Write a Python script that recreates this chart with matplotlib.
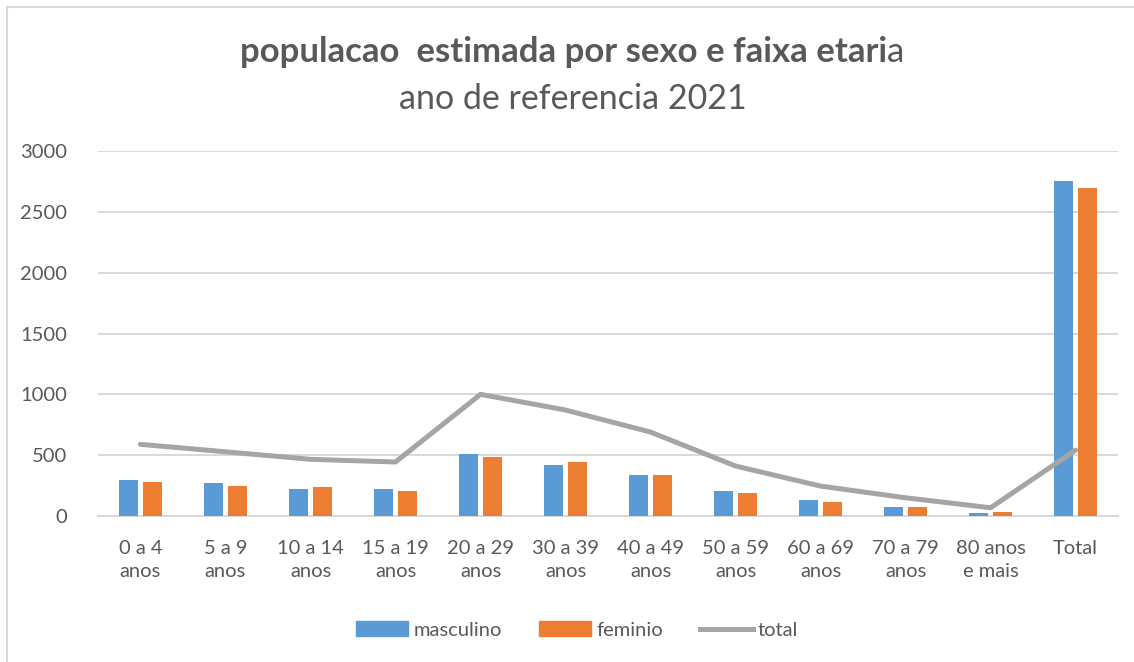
import numpy as np
import matplotlib
matplotlib.use("Agg")
import matplotlib.pyplot as plt
from matplotlib.patches import Rectangle, Patch
from matplotlib.lines import Line2D

categorias = ["0 a 4\nanos", "5 a 9\nanos", "10 a 14\nanos", "15 a 19\nanos",
              "20 a 29\nanos", "30 a 39\nanos", "40 a 49\nanos", "50 a 59\nanos",
              "60 a 69\nanos", "70 a 79\nanos", "80 anos\ne mais", "Total"]
masculino = [298, 270, 222, 222, 509, 416, 337, 205, 129, 71, 22, 2750]
feminio = [283, 249, 236, 208, 485, 444, 337, 189, 112, 74, 30, 2695]
total = [589, 528, 466, 444, 1000, 871, 690, 411, 246, 150, 68, 542]
yticks = [0, 500, 1000, 1500, 2000, 2500, 3000]

AZUL = "#5b9bd5"
LARANJA = "#ed7d31"
CINZA = "#a5a5a5"
TEXTO = "#595959"
GRADE = "#d9d9d9"

plt.rcParams['font.family'] = ['Lato', 'DejaVu Sans']

fig = plt.figure(figsize=(11.34, 6.62), dpi=100)
ax = fig.add_axes([0.0864, 0.2205, 0.8996, 0.5514])

# moldura do grafico
fig.patches.append(Rectangle((7 / 1134, -0.1), 1.2, 1.089,
                             transform=fig.transFigure, fill=False,
                             edgecolor=GRADE, linewidth=1.5, zorder=0))

x = np.arange(len(categorias))
w = 0.23
ax.bar(x - 0.142, masculino, w, color=AZUL, zorder=3, label="masculino")
ax.bar(x + 0.142, feminio, w, color=LARANJA, zorder=3, label="feminio")
ax.plot(x, total, color=CINZA, linewidth=3.6, solid_capstyle='round', zorder=4, label="total")

ax.set_xlim(-0.5, len(categorias) - 0.5)
ax.set_ylim(0, 3000)
ax.set_yticks(yticks)
ax.set_xticks(x)
ax.set_xticklabels(categorias, linespacing=1.45)
ax.yaxis.grid(True, color=GRADE, linewidth=1.4, zorder=0)
ax.set_axisbelow(True)
for s in ["top", "right", "left"]:
    ax.spines[s].set_visible(False)
ax.spines["bottom"].set_color(GRADE)
ax.spines["bottom"].set_linewidth(1.4)
ax.tick_params(axis="both", length=0, labelsize=14.5, colors=TEXTO)
ax.tick_params(axis="y", pad=22)
ax.tick_params(axis="x", pad=17)

# titulo: parte em negrito + "a" normal
fig.canvas.draw()
r = fig.canvas.get_renderer()
t1 = fig.text(0, 0.922, "populacao  estimada por sexo e faixa etari", fontsize=25,
              fontweight="bold", color=TEXTO, ha="left", va="center")
t2 = fig.text(0, 0.922, "a", fontsize=25, color=TEXTO, ha="left", va="center")
w1 = t1.get_window_extent(r).width
w2 = t2.get_window_extent(r).width
x0 = (572 - (w1 + w2) / 2) / 1134
t1.set_x(x0)
t2.set_x(x0 + w1 / 1134)
fig.text(573 / 1134, 0.851, "ano de referencia 2021", fontsize=24.5, color=TEXTO,
         ha="center", va="center")

handles = [Patch(color=AZUL), Patch(color=LARANJA), Line2D([], [], color=CINZA, linewidth=3.6)]
fig.legend(handles, ["masculino", "feminio", "total"], loc="center",
           bbox_to_anchor=(577 / 1134, 1 - 630 / 662), ncol=3, frameon=False,
           fontsize=14.5, labelcolor=TEXTO, handlelength=2.6, handleheight=0.7,
           handletextpad=0.25, columnspacing=1.85)

fig.savefig("out.png", dpi=100)
